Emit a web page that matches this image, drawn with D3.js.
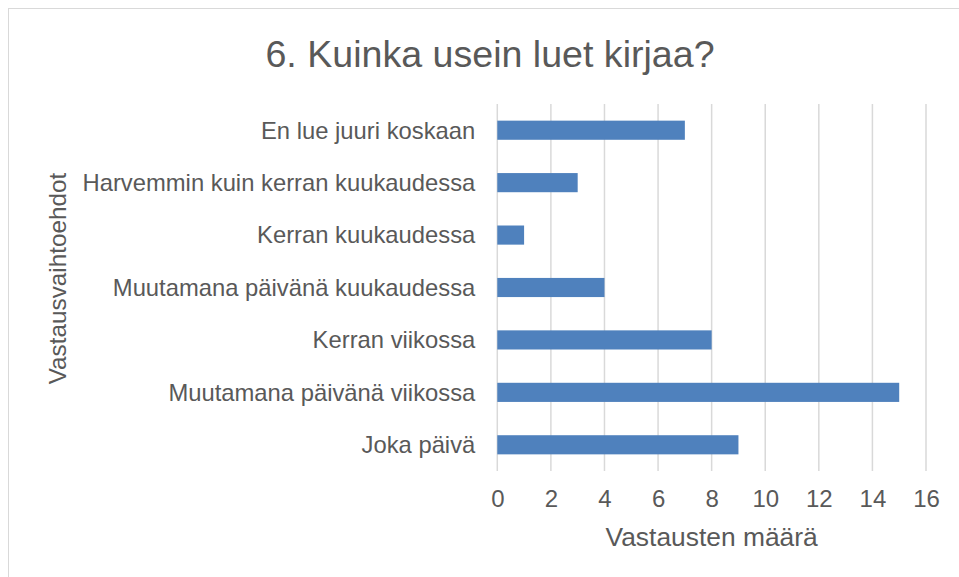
<!DOCTYPE html>
<html>
<head>
<meta charset="utf-8">
<script src="https://cdn.jsdelivr.net/npm/d3@7"></script>
<style>
  body { margin: 0; background: #fff; }
  text { font-family: "Liberation Sans", Arial, sans-serif; fill: #595959; }
</style>
</head>
<body>
<svg id="chart" width="959" height="577"></svg>
<script>
// chart data
var categories = [
  "En lue juuri koskaan",
  "Harvemmin kuin kerran kuukaudessa",
  "Kerran kuukaudessa",
  "Muutamana päivänä kuukaudessa",
  "Kerran viikossa",
  "Muutamana päivänä viikossa",
  "Joka päivä"
];
var answers = [7, 3, 1, 4, 8, 15, 9];
var xTicks = [0, 2, 4, 6, 8, 10, 12, 14, 16];

var svg = d3.select("#chart");
var margin = {left: 497.3, right: 33, top: 104, bottom: 106};
var width = 959 - margin.left - margin.right,
    height = 577 - margin.top - margin.bottom;

// outer frame
svg.append("rect")
  .attr("x", 8.5).attr("y", 8.5)
  .attr("width", 970).attr("height", 600)
  .attr("fill", "none")
  .attr("stroke", "#d9d9d9")
  .attr("stroke-width", 1);

var x = d3.scaleLinear().domain([0, 16]).range([0, width]);
var y = d3.scaleBand().domain(categories).range([0, height])
  .paddingInner(0.635).paddingOuter(0.3175);

var g = svg.append("g")
  .attr("transform", "translate(" + margin.left + "," + margin.top + ")");

// vertical gridlines
g.selectAll(".grid").data(xTicks)
  .enter().append("line")
    .attr("class", "grid")
    .attr("x1", function(d) { return x(d); })
    .attr("x2", function(d) { return x(d); })
    .attr("y1", 0)
    .attr("y2", height)
    .attr("stroke", "#d9d9d9")
    .attr("stroke-width", 1.5);

// bars
g.selectAll(".bar").data(answers)
  .enter().append("rect")
    .attr("class", "bar")
    .attr("x", x(0))
    .attr("y", function(d, i) { return y(categories[i]); })
    .attr("width", function(d) { return x(d) - x(0); })
    .attr("height", y.bandwidth())
    .attr("fill", "#4f81bd");

// x axis labels
var xAxis = d3.axisBottom(x).tickValues(xTicks).tickSize(0).tickPadding(0);
var xa = g.append("g")
  .attr("transform", "translate(0," + height + ")")
  .call(xAxis);
xa.select(".domain").remove();
xa.selectAll("text")
  .attr("dy", null)
  .attr("y", 36)
  .style("font-size", "24px")
  .style("font-family", "'Liberation Sans', Arial, sans-serif")
  .attr("fill", "#595959");

// y axis labels
var yAxis = d3.axisLeft(y).tickSize(0).tickPadding(22);
var ya = g.append("g").call(yAxis);
ya.select(".domain").remove();
ya.selectAll("text")
  .attr("dy", "0.35em")
  .style("font-size", "23.8px")
  .style("font-family", "'Liberation Sans', Arial, sans-serif")
  .attr("fill", "#595959");

// title
svg.append("text")
  .attr("x", 490)
  .attr("y", 67)
  .attr("text-anchor", "middle")
  .style("font-size", "37.6px")
  .text("6. Kuinka usein luet kirjaa?");

// axis titles
svg.append("text")
  .attr("x", margin.left + width / 2)
  .attr("y", 546)
  .attr("text-anchor", "middle")
  .style("font-size", "26.4px")
  .text("Vastausten määrä");

svg.append("text")
  .attr("text-anchor", "middle")
  .attr("transform", "translate(66,278.5)rotate(-90)")
  .style("font-size", "24.3px")
  .text("Vastausvaihtoehdot");
</script>
</body>
</html>
